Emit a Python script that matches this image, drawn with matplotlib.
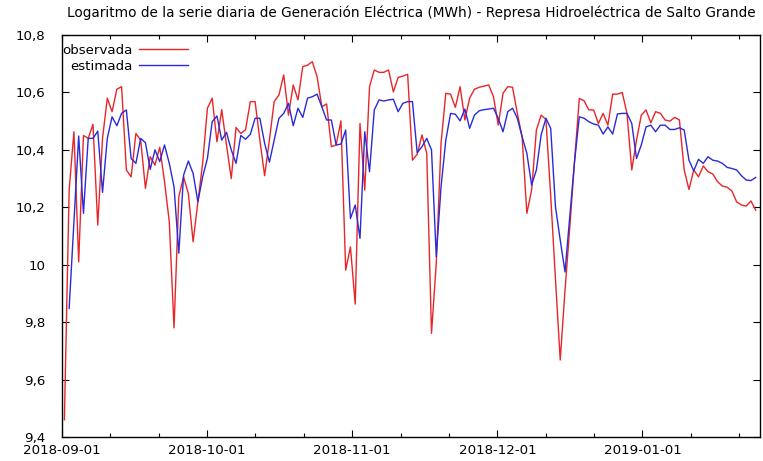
import numpy as np
import pandas as pd
import matplotlib
matplotlib.use("Agg")
import matplotlib.pyplot as plt
import matplotlib.dates as mdates
from matplotlib.ticker import FuncFormatter

# Serie diaria (log de MWh), desde 2018-09-01
fecha_inicio = "2018-09-01"

observada = [
    9.46, 10.26, 10.463, 10.01, 10.45, 10.44, 10.489, 10.138, 10.44, 10.58,
    10.533, 10.611, 10.62, 10.33, 10.306, 10.457, 10.434, 10.266, 10.376, 10.347,
    10.409, 10.29, 10.15, 9.78, 10.237, 10.306, 10.248, 10.08, 10.219, 10.353,
    10.545, 10.58, 10.428, 10.54, 10.417, 10.30, 10.478, 10.457, 10.47, 10.568,
    10.568, 10.434, 10.31, 10.434, 10.568, 10.591, 10.661, 10.521, 10.626, 10.574,
    10.69, 10.695, 10.707, 10.655, 10.55, 10.56, 10.411, 10.417, 10.501, 9.981,
    10.062, 9.863, 10.492, 10.26, 10.62, 10.678, 10.67, 10.67, 10.678, 10.602,
    10.652, 10.657, 10.663, 10.364, 10.385, 10.452, 10.388, 9.761, 10.005, 10.423,
    10.597, 10.594, 10.548, 10.62, 10.504, 10.58, 10.611, 10.618, 10.622, 10.626,
    10.585, 10.486, 10.597, 10.62, 10.618, 10.527, 10.446, 10.179, 10.26, 10.469,
    10.521, 10.506, 10.24, 9.95, 9.668, 9.91, 10.13, 10.36, 10.579, 10.571,
    10.539, 10.539, 10.492, 10.527, 10.486, 10.594, 10.594, 10.60, 10.527, 10.33,
    10.434, 10.521, 10.539, 10.494, 10.533, 10.527, 10.504, 10.50, 10.513, 10.504,
    10.33, 10.262, 10.33, 10.306, 10.344, 10.324, 10.316, 10.289, 10.274, 10.27,
    10.257, 10.219, 10.208, 10.204, 10.222, 10.19,
]

# el primer dia no tiene estimacion
estimada = [
    np.nan, 9.848, 10.15, 10.448, 10.179, 10.44, 10.44, 10.465, 10.252, 10.44,
    10.515, 10.484, 10.527, 10.539, 10.37, 10.353, 10.44, 10.425, 10.332, 10.40,
    10.359, 10.417, 10.353, 10.271, 10.04, 10.312, 10.361, 10.318, 10.219, 10.306,
    10.37, 10.498, 10.518, 10.434, 10.461, 10.40, 10.353, 10.45, 10.437, 10.454,
    10.51, 10.51, 10.423, 10.357, 10.434, 10.51, 10.527, 10.562, 10.484, 10.545,
    10.513, 10.58, 10.585, 10.594, 10.55, 10.504, 10.504, 10.417, 10.42, 10.469,
    10.161, 10.208, 10.092, 10.463, 10.324, 10.539, 10.574, 10.57, 10.574, 10.576,
    10.533, 10.562, 10.568, 10.568, 10.39, 10.411, 10.44, 10.40, 10.028, 10.271,
    10.434, 10.527, 10.524, 10.501, 10.542, 10.475, 10.521, 10.536, 10.54, 10.542,
    10.545, 10.51, 10.463, 10.533, 10.545, 10.51, 10.446, 10.388, 10.277, 10.33,
    10.452, 10.51, 10.475, 10.202, 10.086, 9.975, 10.167, 10.359, 10.515, 10.51,
    10.498, 10.49, 10.486, 10.455, 10.48, 10.455, 10.525, 10.527, 10.527, 10.492,
    10.37, 10.417, 10.48, 10.486, 10.463, 10.486, 10.486, 10.471, 10.471, 10.477,
    10.469, 10.364, 10.327, 10.367, 10.353, 10.376, 10.364, 10.361, 10.353, 10.339,
    10.335, 10.33, 10.31, 10.295, 10.293, 10.304,
]

etiquetas_x = ["2018-09-01", "2018-10-01", "2018-11-01", "2018-12-01", "2019-01-01"]

titulo = ("Logaritmo de la serie diaria de Generación Eléctrica (MWh) - "
          "Represa Hidroeléctrica de Salto Grande")

plt.rcParams['font.family'] = ['DejaVu Sans']
plt.rcParams['font.size'] = 9.6

fechas = pd.date_range(fecha_inicio + " 12:00", periods=len(observada), freq="D")

fig = plt.figure(figsize=(7.63, 4.61), dpi=100)
ax = fig.add_axes([62 / 763, 24 / 461, 698 / 763, 402 / 461])

ax.plot(fechas, observada, color="#e8262a", lw=1.0, label="observada")
ax.plot(fechas, estimada, color="#2a2ad8", lw=1.0, label="estimada")

# ticks al estilo gnuplot: mes medio (30.4375 dias), 3 subdivisiones
x0 = mdates.date2num(pd.Timestamp(fecha_inicio))
mes = 30.4375
ax.set_xlim(x0, x0 + 146.4)
ax.set_xticks([x0 + k * mes for k in range(len(etiquetas_x))])
ax.set_xticklabels(etiquetas_x)
ax.set_xticks([x0 + k * mes / 3 for k in range(15) if k % 3], minor=True)

ax.set_ylim(9.4, 10.8)
ax.set_yticks(np.arange(9.4, 10.81, 0.2))
ax.yaxis.set_major_formatter(FuncFormatter(lambda v, p: f"{round(v, 1):g}".replace(".", ",")))

ax.tick_params(which="both", direction="in", top=True, right=True, width=0.8, color="black")
ax.tick_params(which="major", length=5)
ax.tick_params(which="minor", length=3)
ax.tick_params(axis="x", pad=5)
ax.tick_params(axis="y", pad=12)
for s in ax.spines.values():
    s.set_linewidth(1.0)
    s.set_color("black")

ax.set_title(titulo, fontsize=9.8, pad=13)

ax.legend(loc="upper left", bbox_to_anchor=(0.0, 1 - 9 / 402), frameon=False,
          markerfirst=False, handlelength=3.7, handletextpad=0.5, labelspacing=0.2,
          borderaxespad=0.0, borderpad=0.0)

fig.savefig("out.png", dpi=100)
